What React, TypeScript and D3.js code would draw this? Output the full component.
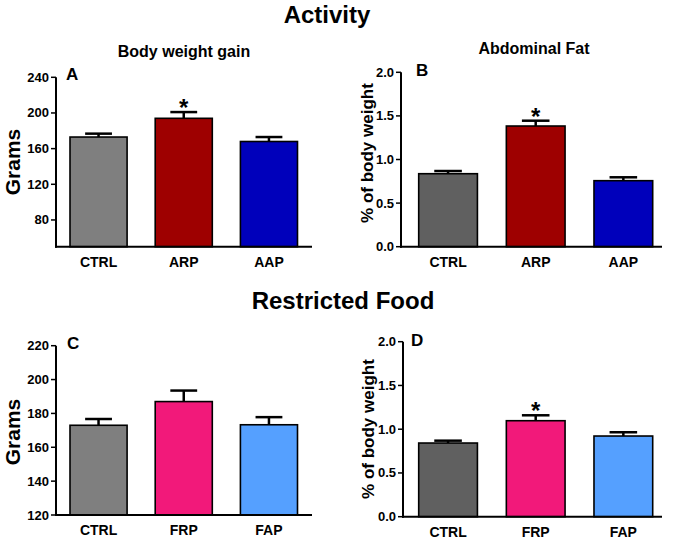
import React from "react";
import * as d3 from "d3";

// ---- data ----
const activityGroups = ["CTRL", "ARP", "AAP"];
const foodGroups = ["CTRL", "FRP", "FAP"];

const weightActivity = [173, 194, 168];
const weightActivityErr = [3.8, 7, 5];
const weightActivityStar = [false, true, false];

const fatActivity = [0.837, 1.384, 0.757];
const fatActivityErr = [0.031, 0.061, 0.039];
const fatActivityStar = [false, true, false];

const weightFood = [173, 187, 173.3];
const weightFoodErr = [3.7, 6.5, 4.5];
const weightFoodStar = [false, false, false];

const fatFood = [0.842, 1.097, 0.922];
const fatFoodErr = [0.027, 0.062, 0.043];
const fatFoodStar = [false, true, false];

const gramsTicksA = [80, 120, 160, 200, 240];
const gramsTicksC = [120, 140, 160, 180, 200, 220];
const fatTicks = [0, 0.5, 1.0, 1.5, 2.0];

const activityColorsWeight = ["#7f7f7f", "#9e0000", "#0000bb"];
const activityColorsFat = ["#606060", "#9e0000", "#0000bb"];
const foodColorsWeight = ["#7f7f7f", "#f2197a", "#55a0ff"];
const foodColorsFat = ["#606060", "#f2197a", "#55a0ff"];

const FONT = "Liberation Sans, Arial, Helvetica, sans-serif";

type PanelProps = {
  axisX: number;
  axisEnd: number;
  barStart: number;
  barEnd: number;
  yTop: number;
  yBottom: number;
  domain: [number, number];
  ticks: number[];
  fmt: (v: number) => string;
  groups: string[];
  values: number[];
  errs: number[];
  stars: boolean[];
  colors: string[];
  letter: string;
  letterX: number;
  letterY: number;
  yLabel: string;
  yLabelX: number;
  yLabelY: number;
  yLabelSize: number;
};

function Panel(p: PanelProps) {
  const y = d3.scaleLinear().domain(p.domain).range([p.yBottom, p.yTop]);
  const x = d3
    .scaleBand<string>()
    .domain(p.groups)
    .range([p.barStart, p.barEnd])
    .paddingInner(0.33)
    .paddingOuter(0);
  const bw = x.bandwidth();
  const capW = bw * 0.47;
  const topTick = y(p.ticks[p.ticks.length - 1]);
  return (
    <g>
      {p.groups.map((g, i) => {
        const cx = (x(g) as number) + bw / 2;
        const top = y(p.values[i]);
        const et = y(p.values[i] + p.errs[i]);
        return (
          <g key={g}>
            <line x1={cx} x2={cx} y1={top} y2={et} stroke="#000" strokeWidth={2.5} />
            <line x1={cx - capW / 2} x2={cx + capW / 2} y1={et} y2={et} stroke="#000" strokeWidth={2.5} />
            <rect
              x={x(g) as number}
              y={top}
              width={bw}
              height={p.yBottom - top}
              fill={p.colors[i]}
              stroke="#000"
              strokeWidth={1.6}
            />
            {p.stars[i] && (
              <text x={cx} y={et + 4} textAnchor="middle" fontSize={24} fontWeight="bold" fontFamily={FONT}>
                *
              </text>
            )}
            <text
              x={cx}
              y={p.yBottom + 20}
              textAnchor="middle"
              fontSize={14}
              fontWeight="bold"
              fontFamily={FONT}
            >
              {g}
            </text>
          </g>
        );
      })}
      {/* axes */}
      <line x1={p.axisX} x2={p.axisX} y1={topTick} y2={p.yBottom + 1} stroke="#000" strokeWidth={2} />
      <line x1={p.axisX - 1} x2={p.axisEnd} y1={p.yBottom} y2={p.yBottom} stroke="#000" strokeWidth={2} />
      {p.ticks.map((t) => (
        <g key={t}>
          <line x1={p.axisX - 5} x2={p.axisX} y1={y(t)} y2={y(t)} stroke="#000" strokeWidth={1.5} />
          <text
            x={p.axisX - 7}
            y={y(t) + 4.5}
            textAnchor="end"
            fontSize={13}
            fontWeight="bold"
            fontFamily={FONT}
          >
            {p.fmt(t)}
          </text>
        </g>
      ))}
      <text x={p.letterX} y={p.letterY} fontSize={17} fontWeight="bold" fontFamily={FONT}>
        {p.letter}
      </text>
      <text
        transform={`translate(${p.yLabelX},${p.yLabelY}) rotate(-90)`}
        textAnchor="middle"
        fontSize={p.yLabelSize}
        fontWeight="bold"
        fontFamily={FONT}
      >
        {p.yLabel}
      </text>
    </g>
  );
}

const intFmt = d3.format("d");
const decFmt = d3.format(".1f");

export default function App() {
  return (
    <svg
      width={673}
      height={542}
      style={{ position: "absolute", left: 0, top: 0, background: "#fff" }}
    >
      <rect width={673} height={542} fill="#fff" />
      <text x={327} y={23} textAnchor="middle" fontSize={24} fontWeight="bold" fontFamily={FONT}>
        Activity
      </text>
      <text x={184} y={57} textAnchor="middle" fontSize={16} fontWeight="bold" fontFamily={FONT}>
        Body weight gain
      </text>
      <text x={534} y={54} textAnchor="middle" fontSize={16} fontWeight="bold" fontFamily={FONT}>
        Abdominal Fat
      </text>
      <text x={343} y={309} textAnchor="middle" fontSize={24} fontWeight="bold" fontFamily={FONT}>
        Restricted Food
      </text>

      <Panel
        axisX={56}
        axisEnd={312}
        barStart={70}
        barEnd={297.5}
        yTop={77.3}
        yBottom={246.7}
        domain={[50, 240]}
        ticks={gramsTicksA}
        fmt={intFmt}
        groups={activityGroups}
        values={weightActivity}
        errs={weightActivityErr}
        stars={weightActivityStar}
        colors={activityColorsWeight}
        letter="A"
        letterX={66}
        letterY={80}
        yLabel="Grams"
        yLabelX={20}
        yLabelY={162}
        yLabelSize={21}
      />
      <Panel
        axisX={401}
        axisEnd={662}
        barStart={418.7}
        barEnd={652.7}
        yTop={72.3}
        yBottom={246.7}
        domain={[0, 2]}
        ticks={fatTicks}
        fmt={decFmt}
        groups={activityGroups}
        values={fatActivity}
        errs={fatActivityErr}
        stars={fatActivityStar}
        colors={activityColorsFat}
        letter="B"
        letterX={416}
        letterY={76}
        yLabel="% of body weight"
        yLabelX={373}
        yLabelY={153}
        yLabelSize={17}
      />
      <Panel
        axisX={56}
        axisEnd={312}
        barStart={70}
        barEnd={297.5}
        yTop={345.7}
        yBottom={515}
        domain={[120, 220]}
        ticks={gramsTicksC}
        fmt={intFmt}
        groups={foodGroups}
        values={weightFood}
        errs={weightFoodErr}
        stars={weightFoodStar}
        colors={foodColorsWeight}
        letter="C"
        letterX={67}
        letterY={349}
        yLabel="Grams"
        yLabelX={20}
        yLabelY={432}
        yLabelSize={21}
      />
      <Panel
        axisX={403}
        axisEnd={662}
        barStart={418.7}
        barEnd={652.7}
        yTop={341.7}
        yBottom={516.7}
        domain={[0, 2]}
        ticks={fatTicks}
        fmt={decFmt}
        groups={foodGroups}
        values={fatFood}
        errs={fatFoodErr}
        stars={fatFoodStar}
        colors={foodColorsFat}
        letter="D"
        letterX={411}
        letterY={346}
        yLabel="% of body weight"
        yLabelX={374}
        yLabelY={429}
        yLabelSize={17}
      />
    </svg>
  );
}
